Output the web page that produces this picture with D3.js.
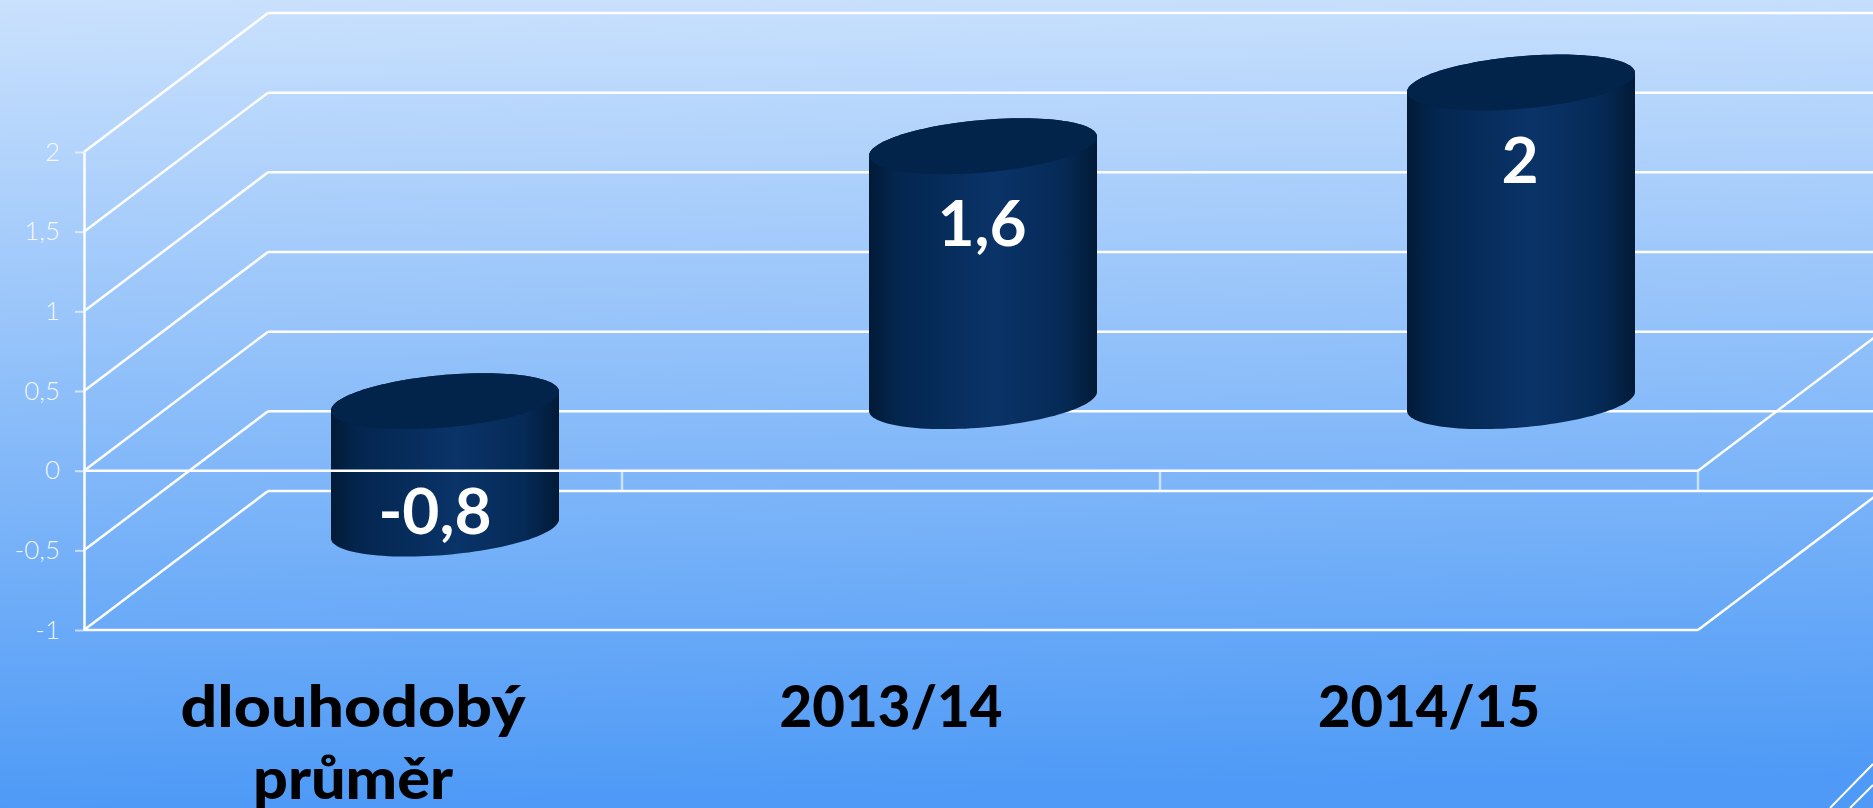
<!DOCTYPE html>
<html>
<head>
<meta charset="utf-8">
<script src="https://cdn.jsdelivr.net/npm/d3@7"></script>
<style>
  html, body { margin: 0; padding: 0; overflow: hidden; }
  svg { display: block; }
  text { font-family: Lato, "Open Sans", sans-serif; }
</style>
</head>
<body>
<svg id="chart"></svg>
<script>
const categories = [["dlouhodobý", "průměr"], ["2013/14"], ["2014/15"]];
const values = [-0.8, 1.6, 2];
const valueLabels = ["-0,8", "1,6", "2"];
const yTicks = [-1, -0.5, 0, 0.5, 1, 1.5, 2];
const yTickLabels = ["-1", "-0,5", "0", "0,5", "1", "1,5", "2"];

const width = 1873;
const height = 808;

// front plane of the fake 3D box, back wall is shifted by depth
const plot = { left: 84, right: 1698, top: 152, bottom: 630 };
const depth = { x: 184, y: -139 };
const barWidth = 228;
const capTilt = 9.5;
const capRy = 26.3;

// Lato is narrower than the original face, so the long labels get stretched
const catLineLengths = { "dlouhodobý": 345, "průměr": 200, "2013/14": 223, "2014/15": 222 };

const svg = d3.select("#chart")
  .attr("width", width)
  .attr("height", height)
  .attr("viewBox", [0, 0, width, height]);

const defs = svg.append("defs");

const bg = defs.append("linearGradient")
  .attr("id", "bg")
  .attr("gradientUnits", "userSpaceOnUse")
  .attr("x1", 0).attr("y1", 0).attr("x2", 15).attr("y2", height);
bg.append("stop").attr("offset", "0%").attr("stop-color", "#cae1fd");
bg.append("stop").attr("offset", "100%").attr("stop-color", "#4e9af6");

const body = defs.append("linearGradient")
  .attr("id", "barBody")
  .attr("x1", 0).attr("y1", 0).attr("x2", 1).attr("y2", 0);
body.append("stop").attr("offset", "0%").attr("stop-color", "#021a36");
body.append("stop").attr("offset", "12%").attr("stop-color", "#03264f");
body.append("stop").attr("offset", "55%").attr("stop-color", "#0a3368");
body.append("stop").attr("offset", "85%").attr("stop-color", "#052a56");
body.append("stop").attr("offset", "100%").attr("stop-color", "#021a36");

svg.append("rect")
  .attr("width", width)
  .attr("height", height)
  .attr("fill", "url(#bg)");

// slide decoration in the bottom right corner
svg.append("path")
  .attr("d", "M1830,808L1873,764M1850,808L1873,785")
  .attr("stroke", "#fff")
  .attr("stroke-width", 2)
  .attr("fill", "none");

const x = d3.scaleBand()
  .domain(d3.range(categories.length))
  .range([plot.left, plot.right]);

const y = d3.scaleLinear()
  .domain([-1, 2])
  .range([plot.bottom, plot.top]);

const grid = svg.append("g")
  .attr("stroke", "#fff")
  .attr("stroke-width", 2.5)
  .attr("fill", "none");

// back wall lines and the side wall diagonals
yTicks.forEach(t => {
  grid.append("line")
    .attr("x1", plot.left + depth.x)
    .attr("x2", width)
    .attr("y1", y(t) + depth.y)
    .attr("y2", y(t) + depth.y);
  grid.append("line")
    .attr("x1", plot.left)
    .attr("x2", plot.left + depth.x)
    .attr("y1", y(t))
    .attr("y2", y(t) + depth.y);
});

// right hand diagonals run off the page
[0, -1].forEach(t => {
  grid.append("line")
    .attr("x1", plot.right)
    .attr("y1", y(t))
    .attr("x2", plot.right + depth.x)
    .attr("y2", y(t) + depth.y);
});

// floor front edge
grid.append("line")
  .attr("x1", plot.left)
  .attr("x2", plot.right)
  .attr("y1", y(-1))
  .attr("y2", y(-1));

// y axis
svg.append("g")
  .attr("transform", `translate(${plot.left},0)`)
  .call(d3.axisLeft(y).tickValues(yTicks).tickSize(9).tickSizeOuter(0).tickPadding(15)
    .tickFormat((d, i) => yTickLabels[i]))
  .call(g => {
    g.selectAll("path").attr("stroke", "#fff").attr("stroke-width", 2.5);
    g.selectAll("line").attr("stroke", "#fff").attr("stroke-width", 2).attr("stroke-opacity", 0.6);
    g.selectAll("text")
      .attr("fill", "#fff")
      .attr("fill-opacity", 0.9)
      .style("font-family", "Lato, sans-serif")
      .style("font-weight", 300)
      .style("font-size", "26px");
  });

function capPoint(cx, cy, t) {
  return [
    cx + barWidth / 2 * Math.cos(t),
    cy - capTilt * Math.cos(t) + capRy * Math.sin(t)
  ];
}

// centre of the bar sits half way into the box
function barCenter(i) {
  return x(i) + x.bandwidth() / 2 + depth.x / 2;
}

function capPath(cx, cy) {
  const pts = d3.range(0, 2 * Math.PI, Math.PI / 60).map(t => capPoint(cx, cy, t));
  return d3.line().curve(d3.curveLinearClosed)(pts);
}

// runs under the cap, otherwise the seam shows the background through
function bodyPath(cx, topY, baseY) {
  const lower = d3.range(0, Math.PI + 0.001, Math.PI / 60).map(t => capPoint(cx, baseY, t));
  const upper = d3.range(Math.PI, 2 * Math.PI + 0.001, Math.PI / 60).map(t => capPoint(cx, topY, t));
  return d3.line().curve(d3.curveLinearClosed)(lower.concat(upper));
}

const bars = svg.append("g")
  .selectAll("g")
  .data(values)
  .join("g");

bars.each(function (d, i) {
  const g = d3.select(this);
  const cx = barCenter(i);
  const zeroY = y(0) + depth.y / 2;
  const valY = y(d) + depth.y / 2;
  const topY = Math.min(zeroY, valY);
  const baseY = Math.max(zeroY, valY);

  g.append("path")
    .attr("d", bodyPath(cx, topY, baseY))
    .attr("fill", "url(#barBody)");
  g.append("path")
    .attr("d", capPath(cx, topY))
    .attr("fill", "#03244a");
});

// zero plane goes in front of the bars
const front = svg.append("g")
  .attr("stroke", "#fff");

front.append("line")
  .attr("x1", plot.left)
  .attr("x2", plot.right)
  .attr("y1", y(0))
  .attr("y2", y(0))
  .attr("stroke-width", 2.5);

front.selectAll(".tick-cat")
  .data(d3.range(1, categories.length + 1))
  .join("line")
  .attr("class", "tick-cat")
  .attr("x1", d => plot.left + d * x.bandwidth())
  .attr("x2", d => plot.left + d * x.bandwidth())
  .attr("y1", y(0))
  .attr("y2", y(-1) + depth.y)
  .attr("stroke-width", 2.5)
  .attr("stroke-opacity", 0.6);

// value labels
svg.append("g")
  .selectAll("text")
  .data(values)
  .join("text")
  .attr("x", (d, i) => barCenter(i) + (d < 0 ? -10 : -1))
  .attr("y", d => y(d) + depth.y / 2 + (d < 0 ? 5 : 100))
  .attr("text-anchor", "middle")
  .attr("fill", "#fff")
  .style("font-weight", 700)
  .style("font-size", "64px")
  .text((d, i) => valueLabels[i]);

// category labels
const catLabels = svg.append("g")
  .selectAll("text")
  .data(categories)
  .join("text")
  .attr("text-anchor", "middle")
  .attr("fill", "#000")
  .style("font-weight", 900)
  .style("font-size", "58px");

catLabels.selectAll("tspan")
  .data((d, i) => d.map(s => ({ s, i })))
  .join("tspan")
  .attr("x", d => x(d.i) + x.bandwidth() / 2)
  .attr("y", (d, j) => 727 + j * 72)
  .attr("textLength", d => catLineLengths[d.s])
  .attr("lengthAdjust", "spacingAndGlyphs")
  .text(d => d.s);
</script>
</body>
</html>
